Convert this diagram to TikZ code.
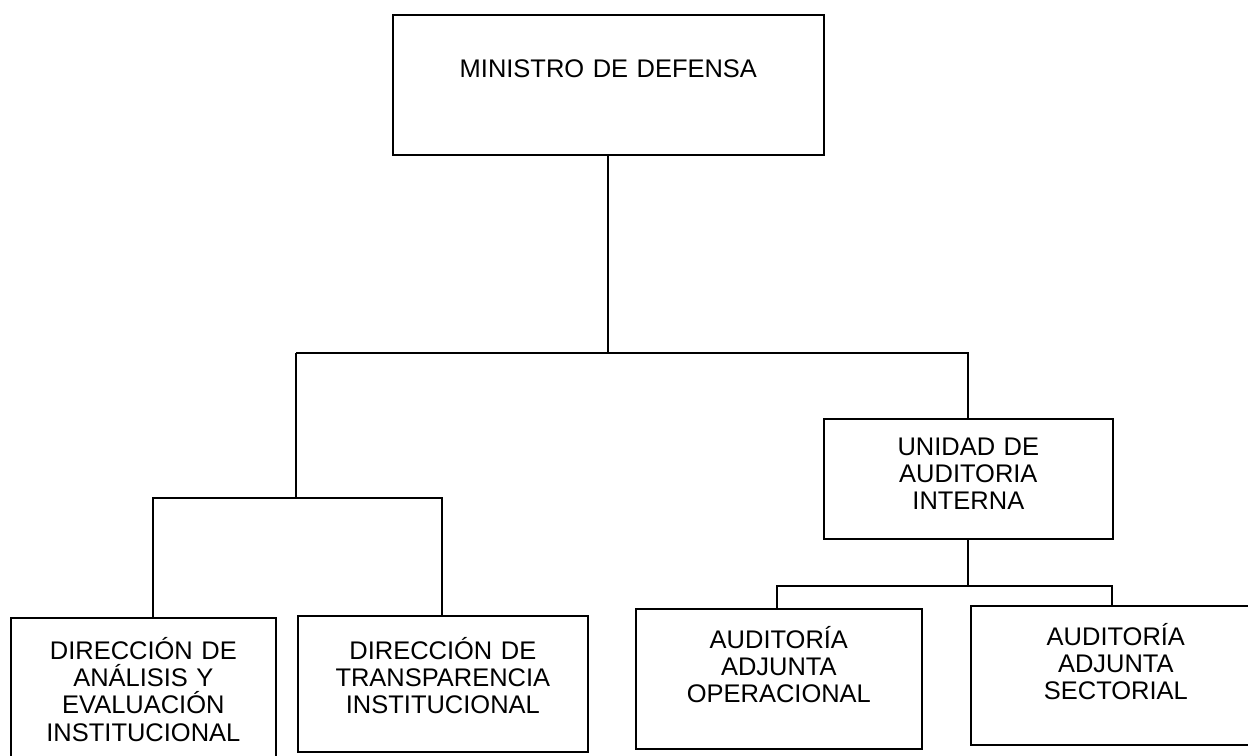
\documentclass[tikz,border=0pt]{standalone}
\usepackage{fontspec}
\setmainfont{Liberation Sans}
\begin{document}
\begin{tikzpicture}[x=0.02cm,y=-0.02cm,
	unit/.style={draw,line width=1pt,inner sep=0pt,align=center,anchor=north west,font=\fontsize{14.5}{15.4}\selectfont},
	link/.style={line width=1pt}]
	\useasboundingbox (0,0) rectangle (1248,756);
	\node[unit,text width=8.62cm,text height=1.26cm,text depth=1.54cm] (minis) at (392,14) {MINISTRO DE DEFENSA};
	\node[unit,text width=5.78cm,text height=0.74cm,text depth=1.66cm] (uai) at (823,418) {UNIDAD DE\\AUDITORIA\\INTERNA};
	\node[unit,text width=5.3cm,text height=0.84cm,text depth=2.4cm] (dae) at (10,617) {DIRECCIÓN DE\\ANÁLISIS Y\\EVALUACIÓN\\INSTITUCIONAL};
	\node[unit,text width=5.8cm,text height=0.88cm,text depth=1.84cm] (dti) at (297,615) {DIRECCIÓN DE\\TRANSPARENCIA\\INSTITUCIONAL};
	\node[unit,text width=5.72cm,text height=0.8cm,text depth=2.0cm] (aao) at (635,608) {AUDITORÍA\\ADJUNTA\\OPERACIONAL};
	\node[unit,text width=5.8cm,text height=0.8cm,text depth=1.98cm] (aas) at (970,605) {AUDITORÍA\\ADJUNTA\\SECTORIAL};
	\coordinate (lhub) at (296,353);
	\coordinate (rhub) at (uai.north |- lhub);
	\coordinate (dhub) at (296,498);
	\coordinate (ahub) at (uai.south |- 0,586);

	\draw[link] (minis.south) -- (minis.south |- lhub);
	\draw[link] (lhub) -- (rhub) -- (uai.north);
	\draw[link] (lhub) -- (dhub);
	\draw[link] (dae.north -| 153,0) |- (dhub) -| (dti.north -| 442,0);
	\draw[link] (uai.south) -- (ahub);
	\draw[link] (aao.north -| 777,0) |- (ahub) -| (aas.north -| 1112,0);
\end{tikzpicture}
\end{document}
